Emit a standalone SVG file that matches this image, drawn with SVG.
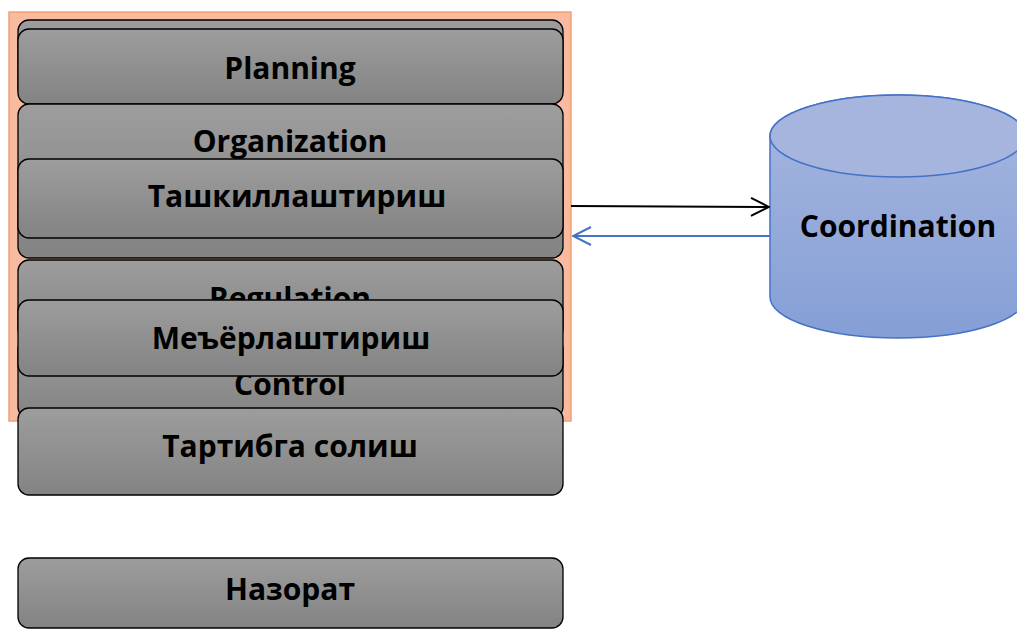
<svg xmlns="http://www.w3.org/2000/svg" width="1017" height="629" viewBox="0 0 1017 629">
<defs>
<linearGradient id="gray" x1="0" y1="0" x2="0" y2="1">
<stop offset="0" stop-color="#9d9d9d"/>
<stop offset="1" stop-color="#838383"/>
</linearGradient>
<linearGradient id="blue" x1="0" y1="0" x2="0" y2="1">
<stop offset="0" stop-color="#a8b7df"/>
<stop offset="1" stop-color="#849fd6"/>
</linearGradient>
<marker id="ab" viewBox="0 0 20 20" refX="19" refY="10" markerWidth="20" markerHeight="20" markerUnits="userSpaceOnUse" orient="auto">
<path d="M1,1 L19,10 L1,19" fill="none" stroke="#000" stroke-width="2"/>
</marker>
<marker id="au" viewBox="0 0 20 20" refX="19" refY="10" markerWidth="20" markerHeight="20" markerUnits="userSpaceOnUse" orient="auto">
<path d="M1,1 L19,10 L1,19" fill="none" stroke="#4472c4" stroke-width="2"/>
</marker>
</defs>
<style>
.box{fill:url(#gray);stroke:#000;stroke-width:1.3}
.t{font-family:"Open Sans","Liberation Sans",sans-serif;font-weight:700;font-size:30px;fill:#000;text-anchor:middle}
</style>
<rect width="1017" height="629" fill="#fff"/>
<g id="container">
<rect x="9" y="12" width="562" height="409" fill="#f8bba0" stroke="#f4a070" stroke-width="1.5"/>
</g>
<g id="back-box"><rect class="box" x="18" y="20" width="545" height="80" rx="11"/></g>
<g id="planning"><rect class="box" x="18" y="29" width="545" height="75" rx="11"/><text class="t" x="290" y="79">Planning</text></g>
<g id="organization"><rect class="box" x="18" y="104" width="545" height="154" rx="11"/><text class="t" x="290" y="152">Organization</text></g>
<g id="tashkil"><rect class="box" x="18" y="159" width="545" height="79" rx="11"/><text class="t" x="297" y="207">Ташкиллаштириш</text></g>
<g id="regulation"><rect class="box" x="18" y="260" width="545" height="80" rx="11"/><text class="t" x="290" y="309">Regulation</text></g>
<g id="control"><rect class="box" x="18" y="338" width="545" height="80" rx="11"/><text class="t" x="290" y="395">Control</text></g>
<g id="meyor"><rect class="box" x="18" y="300" width="545" height="76" rx="11"/><text class="t" x="291" y="349">Меъёрлаштириш</text></g>
<g id="tartib"><rect class="box" x="18" y="408" width="545" height="87" rx="11"/><text class="t" x="290" y="457">Тартибга солиш</text></g>
<g id="nazorat"><rect class="box" x="18" y="558" width="545" height="70" rx="11"/><text class="t" x="290" y="600">Назорат</text></g>
<g id="coordination">
<path d="M770,136 L770,297 A128,41 0 0 0 1026,297 L1026,136 A128,41 0 0 0 770,136 Z" fill="url(#blue)" stroke="#4472c4" stroke-width="1.5"/>
<ellipse cx="898" cy="136" rx="128" ry="41" fill="#a6b5de" stroke="#4472c4" stroke-width="1.5"/>
<text class="t" x="898" y="237">Coordination</text>
</g>
<g id="connectors">
<line x1="571" y1="206" x2="769" y2="207" stroke="#000" stroke-width="2" marker-end="url(#ab)"/>
<line x1="770" y1="236" x2="573" y2="236" stroke="#4472c4" stroke-width="2" marker-end="url(#au)"/>
</g>
</svg>
